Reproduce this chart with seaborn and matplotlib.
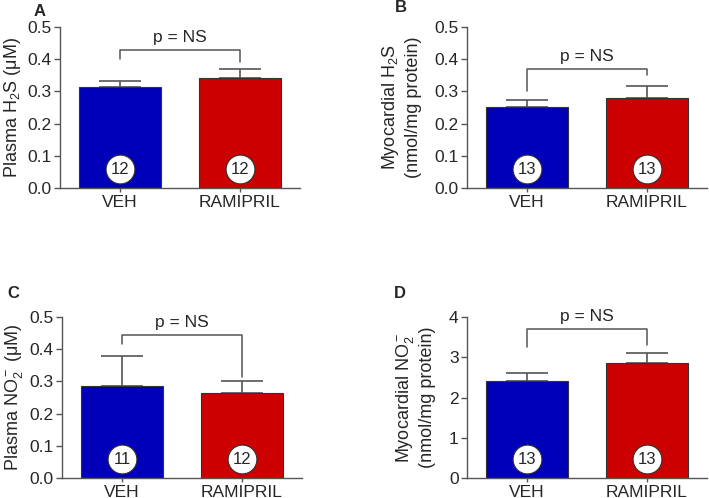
import numpy as np
import pandas as pd
import matplotlib.pyplot as plt
import seaborn as sns

sns.set_style("white")
plt.rcParams['font.family'] = ['Liberation Sans', 'DejaVu Sans']
plt.rcParams['mathtext.fontset'] = 'custom'
plt.rcParams['mathtext.rm'] = 'Liberation Sans'
plt.rcParams['mathtext.it'] = 'Liberation Sans'
plt.rcParams['mathtext.bf'] = 'Liberation Sans:bold'

# data
groups = ["VEH", "RAMIPRIL"]
panel_letters = ["A", "B", "C", "D"]
ylabels = ["Plasma H$_2$S (μM)",
           "Myocardial H$_2$S\n(nmol/mg protein)",
           "Plasma NO$_2^-$ (μM)",
           "Myocardial NO$_2^-$\n(nmol/mg protein)"]
means = [[0.315, 0.343], [0.252, 0.280], [0.287, 0.265], [2.42, 2.85]]
sems = [[0.017, 0.027], [0.021, 0.036], [0.091, 0.035], [0.20, 0.25]]
n_animals = [[12, 12], [13, 13], [11, 12], [13, 13]]
ymax = [0.5, 0.5, 0.5, 4]
yticks = [[0.0, 0.1, 0.2, 0.3, 0.4, 0.5]] * 3 + [[0, 1, 2, 3, 4]]
bracket_y = [0.43, 0.37, 0.445, 3.7]
bracket_ends = [[0.40, 0.39], [0.30, 0.35], [0.415, 0.315], [3.25, 3.3]]

colors = ["#0000b8", "#cc0000"]
gray = "#555555"

fig = plt.figure(figsize=(7.09, 4.98), dpi=100)
positions = [[60, 27], [467, 27], [62, 317], [467, 317]]
for i in range(4):
    x0, ytop = positions[i]
    ax = fig.add_axes([x0 / 709, 1 - (ytop + 161) / 498, 240 / 709, 161 / 498])
    df = pd.DataFrame({"group": groups, "value": means[i]})
    sns.barplot(data=df, x="group", y="value", hue="group", palette=colors,
                saturation=1, width=0.68, errorbar=None, legend=False, ax=ax,
                edgecolor="#333333", linewidth=0.8, zorder=2)
    ax.errorbar([0, 1], means[i], yerr=[[0, 0], sems[i]], fmt="none",
                ecolor=gray, elinewidth=1.2, capsize=15, capthick=1.2, zorder=1)
    # n circles
    ny = ymax[i] * 0.116
    ax.scatter([0, 1], [ny, ny], s=430, color="white", edgecolor="#333333",
               linewidth=0.8, zorder=3)
    for j in range(2):
        ax.text(j, ny, str(n_animals[i][j]), ha="center", va="center",
                fontsize=12, zorder=4)
    # bracket
    by = bracket_y[i]
    ax.plot([0, 0, 1, 1], [bracket_ends[i][0], by, by, bracket_ends[i][1]],
            color=gray, linewidth=1.1, clip_on=False)
    ax.text(0.5, by + ymax[i] * 0.03, "p = NS", ha="center", va="bottom", fontsize=12.5)

    ax.set_xlim(-0.5, 1.5)
    ax.set_ylim(0, ymax[i])
    ax.set_yticks(yticks[i])
    if ymax[i] == 4:
        ax.set_yticklabels([str(t) for t in yticks[i]])
    else:
        ax.set_yticklabels([f"{t:.1f}" for t in yticks[i]])
    ax.set_xlabel("")
    two_line = "\n" in ylabels[i]
    ax.set_ylabel(ylabels[i], fontsize=13, linespacing=1.3,
                  labelpad=9 if two_line else 3)
    sns.despine(ax=ax)
    for s in ["left", "bottom"]:
        ax.spines[s].set_color(gray)
        ax.spines[s].set_linewidth(1.0)
    ax.tick_params(axis="both", direction="out", length=4, width=1.0,
                   color=gray, labelsize=12.5, left=True, bottom=True, pad=2)
    ax.tick_params(axis="x", length=3, labelsize=12.5)
    lx = [40, 401, 13, 400][i]
    ly = [12, 8, 293, 293][i]
    fig.text(lx / 709, 1 - ly / 498, panel_letters[i], fontsize=12,
             fontweight="bold", ha="center", va="center")

plt.savefig("out.png", dpi=100)
